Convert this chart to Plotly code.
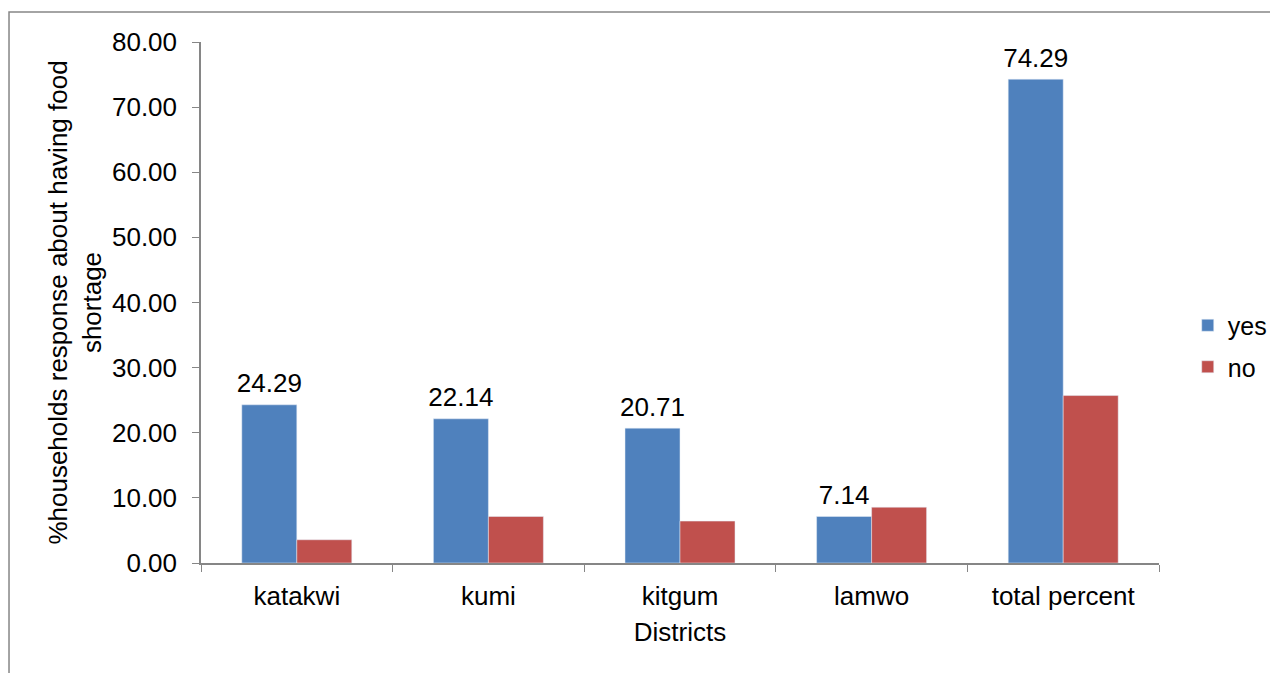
import plotly.graph_objects as go

distritos = ['katakwi', 'kumi', 'kitgum', 'lamwo', 'total percent']
sim = [24.29, 22.14, 20.71, 7.14, 74.29]
nao = [3.57, 7.14, 6.43, 8.57, 25.71]

fonte = 'Liberation Sans, Arial, sans-serif'
cinza = '#868686'

fig = go.Figure()
fig.add_trace(go.Bar(
    x=distritos, y=sim, name='yes', legendgroup='yes',
    marker=dict(color='#4F81BD'),
    text=sim,
    # subscrito vazio dos dois lados so para afastar o rotulo da barra
    texttemplate='<sub>&nbsp;</sub>%{y:.2f}<sub>&nbsp;</sub>',
    textposition='outside', constraintext='none',
    textfont=dict(size=26, color='black'), cliponaxis=False,
))
fig.add_trace(go.Bar(
    x=distritos, y=nao, name='no', legendgroup='no',
    marker=dict(color='#C0504D'),
))

fig.update_layout(
    width=1278, height=673,
    margin=dict(l=193, r=127, t=34, b=118),
    plot_bgcolor='white', paper_bgcolor='white',
    font=dict(family=fonte, size=26, color='black'),
    barmode='group', bargap=0.426, bargroupgap=0,
    legend=dict(x=1.03, y=0.4165, xanchor='left', yanchor='middle',
                traceorder='grouped', tracegroupgap=6,
                font=dict(size=25)),
    xaxis=dict(
        title=dict(text='Districts', standoff=13, font=dict(size=26)),
        showline=True, linecolor=cinza, linewidth=1.5,
        ticks='outside', tickson='boundaries', ticklen=7, tickcolor=cinza,
        ticklabelstandoff=9,
        showgrid=False,
    ),
    yaxis=dict(
        title=dict(text='%households response about having food<br>shortage',
                   standoff=3, font=dict(size=26)),
        range=[0, 80], dtick=10, tickformat='.2f',
        showline=True, linecolor=cinza, linewidth=1.5,
        ticks='outside', ticklen=7, tickcolor=cinza,
        ticklabelstandoff=10,
        showgrid=False, zeroline=False,
    ),
    shapes=[dict(type='rect', xref='paper', yref='paper',
                 x0=-0.2004, x1=1.2, y0=-0.3, y1=1.0576,
                 line=dict(color=cinza, width=1.5))],
)

fig.write_html('out.html')
